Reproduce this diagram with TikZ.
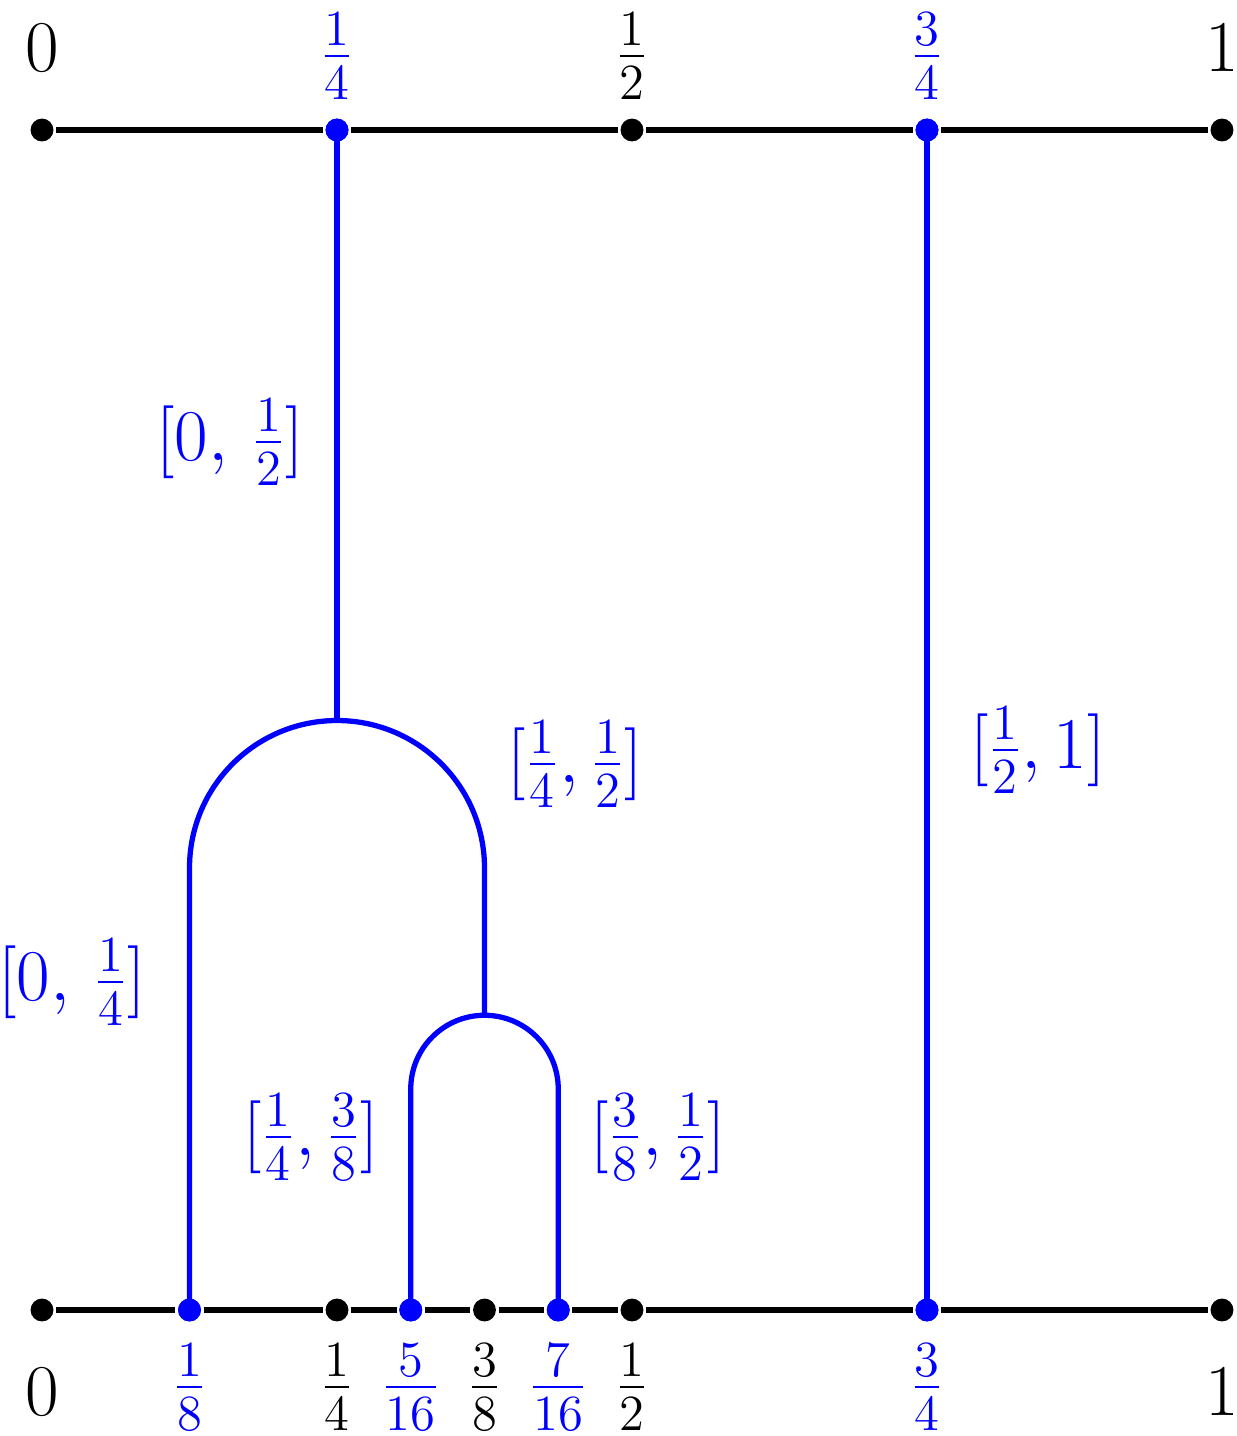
\documentclass[tikz,border=0pt]{standalone}
\usepackage{fontspec}
\definecolor{bl}{RGB}{0,0,255}
\begin{document}
\begin{tikzpicture}[x=0.01cm,y=-0.01cm,
  dot/.style={circle,fill=black,inner sep=0pt,minimum size=6.5pt},
  bdot/.style={circle,fill=bl,inner sep=0pt,minimum size=6.5pt},
  lab/.style={font=\fontsize{21.5}{25}\selectfont,inner sep=0pt},
  blab/.style={lab,text=bl},
  bline/.style={bl,line width=1.5pt},
  every path/.style={line width=1.5pt}]
\useasboundingbox (0,0) rectangle (1236,1436);
% top
\node[dot] (t0) at (42,130) {};
\node[bdot] (t14) at (337,130) {};
\node[dot] (t12) at (632,130) {};
\node[bdot] (t34) at (927,130) {};
\node[dot] (t1) at (1222,130) {};
% bottom
\node[dot] (b0) at (42,1310) {};
\node[bdot] (b18) at (189.5,1310) {};
\node[dot] (b14) at (337,1310) {};
\node[bdot] (b516) at (410.75,1310) {};
\node[dot] (b38) at (484.5,1310) {};
\node[bdot] (b716) at (558.25,1310) {};
\node[dot] (b12) at (632,1310) {};
\node[bdot] (b34) at (927,1310) {};
\node[dot] (b1) at (1222,1310) {};
\draw (t0) -- (t14) -- (t12) -- (t34) -- (t1);
\draw (b0) -- (b18) -- (b14) -- (b516) -- (b38) -- (b716) -- (b12) -- (b34) -- (b1);
\coordinate (top1) at (337,720);
\coordinate (top2) at (484.5,1015);
\draw[bline] (t14.center) -- (top1);
\draw[bline] (t34.center) -- (b34.center);
\draw[bline] (b18.center) -- (189.5,868) arc[start angle=180,end angle=360,radius=147.5] -- (top2);
\draw[bline] (b516.center) -- (410.75,1089) arc[start angle=180,end angle=360,radius=73.75] -- (b716.center);
\node[bdot] at (t14) {};\node[bdot] at (t34) {};
\node[bdot] at (b18) {};\node[bdot] at (b516) {};\node[bdot] at (b716) {};\node[bdot] at (b34) {};
% labels top
\node[lab] (l0) at (42,48) {$0$};
\node[blab] (l14) at (337,56) {$\frac14$};
\node[lab] (l12) at (632,56) {$\frac12$};
\node[blab] (l34) at (927,56) {$\frac34$};
\node[lab] (l1) at (1222,48) {$1$};
% labels bottom
\node[lab] at (42,1392) {$0$};
\node[blab] at (189.5,1387) {$\frac18$};
\node[lab] at (337,1387) {$\frac14$};
\node[blab] at (410.75,1387) {$\frac{5}{16}$};
\node[lab] at (484.5,1387) {$\frac38$};
\node[blab] at (558.25,1387) {$\frac{7}{16}$};
\node[lab] at (632,1387) {$\frac12$};
\node[blab] at (927,1387) {$\frac34$};
\node[lab] at (1222,1392) {$1$};
% interval labels
\node[blab] at (230,442) {$[0,\,\frac12]$};
\node[blab] at (575,764) {$[\frac14,\frac12]$};
\node[blab] at (1038,750) {$[\frac12,1]$};
\node[blab] at (72,982) {$[0,\,\frac14]$};
\node[blab] at (311,1137) {$[\frac14,\frac38]$};
\node[blab] at (658,1137) {$[\frac38,\frac12]$};
\end{tikzpicture}
\end{document}
